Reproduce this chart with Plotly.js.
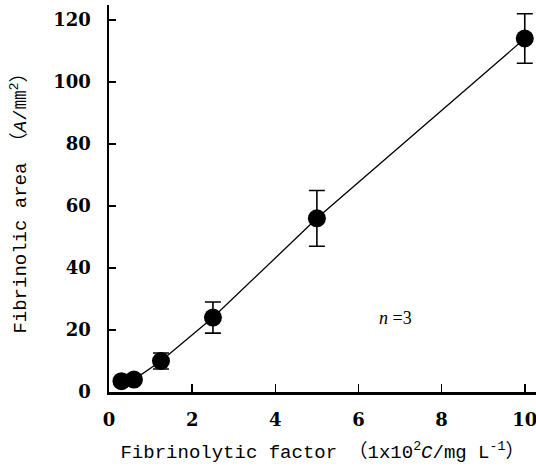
<!DOCTYPE html>
<html>
<head>
<meta charset="utf-8">
<script src="https://cdn.plot.ly/plotly-3.0.1.min.js"></script>
<style>html,body{margin:0;padding:0;background:#fff}#chart{width:536px;height:472px}</style>
</head>
<body>
<div id="chart"></div>
<script>
const factor = [0.3, 0.6, 1.25, 2.5, 5, 10];
const area = [3.5, 4, 10, 24, 56, 114];
const areaErr = [0, 0, 2.6, 5, 9, 8];
const xTicks = [0, 2, 4, 6, 8, 10];
const yTicks = [0, 20, 40, 60, 80, 100, 120];

const trace = {
  x: factor, y: area, type: 'scatter', mode: 'lines+markers',
  line: {color: '#000', width: 1.3},
  marker: {color: '#000', size: 18},
  error_y: {type: 'data', array: areaErr, visible: true, color: '#000', thickness: 1.6, width: 8},
  cliponaxis: false, showlegend: false
};

const tickFont = {family: 'DejaVu Serif', size: 18, color: '#000', weight: 'bold'};
const titleFont = {family: 'Liberation Mono, Noto Sans CJK SC', size: 19, color: '#000'};

const layout = {
  width: 536, height: 472,
  margin: {l: 109, r: 0, t: 5, b: 80},
  paper_bgcolor: '#fff', plot_bgcolor: '#fff',
  xaxis: {
    range: [0, 10.27], tickvals: xTicks, ticktext: xTicks.map(String),
    ticks: 'inside', ticklen: 8, tickwidth: 1.5, tickcolor: '#000',
    showline: true, linecolor: '#000', linewidth: 2.5, showgrid: false, zeroline: false,
    tickfont: tickFont, ticklabelstandoff: 10, ticklabeloverflow: 'allow',
    title: {text: 'Fibrinolytic factor （1x10<sup>2</sup><i>C</i>/mg L<sup>-1</sup>）', font: titleFont, standoff: 16}
  },
  yaxis: {
    range: [0, 124.8], tickvals: yTicks, ticktext: yTicks.map(String),
    ticks: 'inside', ticklen: 7, tickwidth: 1.5, tickcolor: '#000',
    showline: true, linecolor: '#000', linewidth: 2.5, showgrid: false, zeroline: false,
    tickfont: tickFont, ticklabelstandoff: 12,
    title: {text: 'Fibrinolic area （<i>A</i>/㎜<sup>2</sup>）', font: titleFont, standoff: 22}
  },
  annotations: [{
    x: 6.9, y: 24, xref: 'x', yref: 'y', showarrow: false,
    text: '<i>n</i> =3', font: {family: 'Liberation Serif', size: 18, color: '#000'}
  }]
};

Plotly.newPlot('chart', [trace], layout, {displayModeBar: false, staticPlot: true});
</script>
</body>
</html>
